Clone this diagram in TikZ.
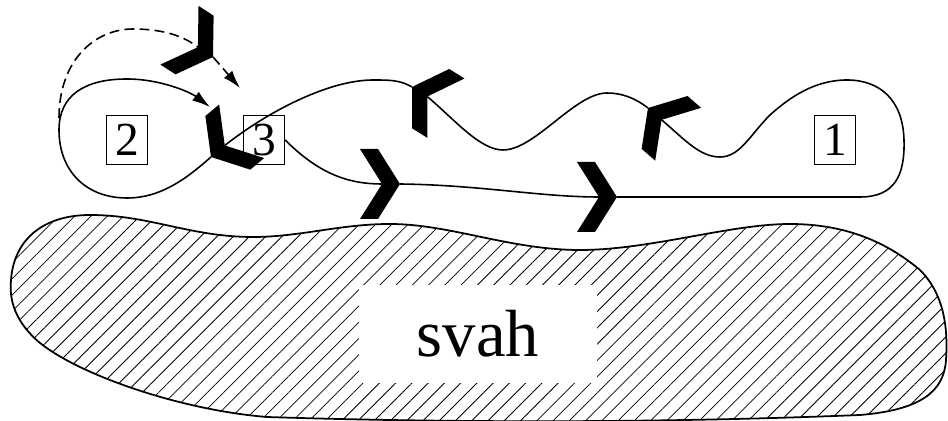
\documentclass[tikz,border=0pt]{standalone}
\usepackage{fontspec}
\setmainfont{Liberation Serif}
\usetikzlibrary{arrows.meta,patterns.meta}
\tikzset{
  route/.style={line width=0.9pt},
  ghost/.style={route, dash pattern=on 5.6pt off 3pt},
  tip/.style={-{Latex[length=3.6mm,width=2.2mm]}},
  stand/.style={draw, line width=0.8pt, minimum width=0.82cm, minimum height=0.98cm,
                inner sep=0pt, font=\fontsize{27}{30}\selectfont},
  slope/.style={draw, line width=1pt,
                pattern={Lines[angle=45,distance=0.23cm,line width=0.45pt]}},
  glider/.pic={
    \fill (0,0) -- (-22,35) -- (-40,35) -- (-18,0) -- (-40,-35) -- (-22,-35) -- cycle;
    \coordinate (-nose) at (0,0);
    \coordinate (-tail) at (-18,0);
  },
}
\begin{document}
\begin{tikzpicture}[x=0.02cm, y=-0.02cm]
  \useasboundingbox (0,0) rectangle (948,421);
  % svah
  \draw[slope] (11,280) .. controls (14,238) and (45,215) .. (90,215)
    .. controls (150,215) and (190,237) .. (253,237)
    .. controls (300,237) and (340,224) .. (390,224)
    .. controls (450,224) and (510,250) .. (580,250)
    .. controls (650,250) and (730,224) .. (790,224)
    .. controls (850,224) and (890,245) .. (920,270)
    .. controls (945,295) and (948,330) .. (946,360)
    .. controls (944,392) and (920,410) .. (860,415)
    .. controls (640,424) and (420,422) .. (267,417)
    .. controls (180,410) and (80,375) .. (40,343)
    .. controls (15,322) and (9,300) .. (11,280) -- cycle;
  \node[fill=white, minimum width=4.76cm, minimum height=1.96cm, inner sep=0pt,
        font=\fontsize{38}{40}\selectfont] (svah) at (478,334) {svah};

  % kluzaky
  \pic (g1) at (400,184) {glider};
  \pic (g2) at (617,197) {glider};
  \pic[rotate=139] (gu2) at (648,108) {glider};
  \pic[rotate=148] (gu1) at (412,87) {glider};
  \pic[rotate=220] (gc) at (211,157) {glider};
  \pic[rotate=-33] (gt) at (213,57) {glider};

  % stanoviste
  \node[stand] (n2) at (127,140) {2};
  \node[stand] (n3) at (264,140) {3};
  \node[stand] (n1) at (835,140) {1};

  \coordinate (loopend) at (210,107);
  \coordinate (loopstart) at (59,118);
  \coordinate (dashend) at (240,88);

  % trasa
  \draw[route] (n3.east) .. controls (320,175) and (350,184) .. (g1-tail);
  \draw[route] (g1-nose) .. controls (480,185) and (540,197) .. (g2-tail);
  \draw[route] (g2-nose) -- (860,197) .. controls (895,197) and (905,175) .. (904,140)
    .. controls (903,100) and (880,80) .. (847,80)
    .. controls (815,80) and (790,97) .. (770,115)
    .. controls (750,135) and (740,157) .. (720,157)
    .. controls (700,157) and (685,140) .. (gu2-tail);
  \draw[route] (gu2-nose) .. controls (635,98) and (622,93) .. (607,93)
    .. controls (575,93) and (535,150) .. (503,150)
    .. controls (480,150) and (455,120) .. (gu1-tail);
  \draw[route] (gu1-nose) .. controls (400,80) and (390,80) .. (373,80)
    .. controls (330,80) and (270,110) .. (gc-tail);
  \draw[route, tip] (gc-nose) .. controls (185,180) and (160,198) .. (127,198)
    .. controls (85,198) and (59,170) .. (59,130)
    .. controls (59,95) and (85,79) .. (127,79)
    .. controls (160,79) and (190,92) .. (loopend);
  \draw[ghost] (loopstart) .. controls (59,60) and (95,29) .. (133,29)
    .. controls (165,29) and (185,37) .. (gt-tail);
  \draw[ghost, tip] (gt-nose) -- (dashend);
\end{tikzpicture}
\end{document}
